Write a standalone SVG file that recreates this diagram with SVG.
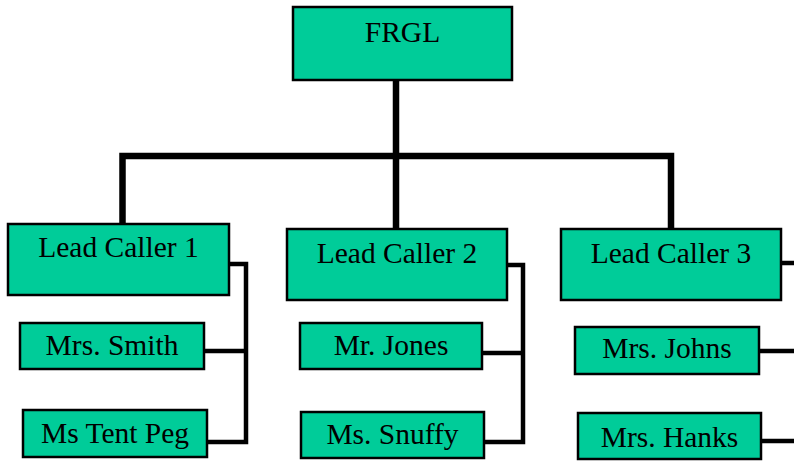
<svg xmlns="http://www.w3.org/2000/svg" width="794" height="467" viewBox="0 0 794 467">
<style>
.box{fill:#00CC99;stroke:#000;stroke-width:2.5}
.t{font-family:"Liberation Serif","Times New Roman",serif;font-size:29.5px;fill:#000;text-anchor:middle}
.main{fill:none;stroke:#000;stroke-width:6.5;stroke-linecap:square}
.sub{fill:none;stroke:#000;stroke-width:4.5;stroke-linecap:butt;stroke-linejoin:miter}
</style>
<rect width="794" height="467" fill="#fff"/>
<g id="connectors">
<path class="main" d="M396,80 V229"/>
<path class="main" d="M122.5,224 V156 H671 V229"/>
<path class="sub" d="M229,264 H246 V442 H207 M204,351 H246"/>
<path class="sub" d="M507,265 H523 V442 H484 M482,353 H523"/>
<path class="sub" d="M781,263 H794 M759,351 H794 M761,441 H794"/>
</g>
<g id="frgl"><rect class="box" x="293" y="7" width="219" height="73"/><text class="t" x="402.5" y="42">FRGL</text></g>
<g id="lead1"><rect class="box" x="8" y="224" width="221" height="71"/><text class="t" x="118.5" y="257">Lead Caller 1</text></g>
<g id="lead2"><rect class="box" x="287" y="229" width="220" height="71"/><text class="t" x="397" y="263">Lead Caller 2</text></g>
<g id="lead3"><rect class="box" x="561" y="229" width="220" height="71"/><text class="t" x="671" y="263">Lead Caller 3</text></g>
<g id="smith"><rect class="box" x="20" y="323" width="184" height="46"/><text class="t" x="112" y="355">Mrs. Smith</text></g>
<g id="tentpeg"><rect class="box" x="23" y="410" width="184" height="47"/><text class="t" x="115" y="443">Ms Tent Peg</text></g>
<g id="jones"><rect class="box" x="300" y="323" width="182" height="46"/><text class="t" x="391" y="355">Mr. Jones</text></g>
<g id="snuffy"><rect class="box" x="301" y="412" width="183" height="46"/><text class="t" x="392.5" y="444">Ms. Snuffy</text></g>
<g id="johns"><rect class="box" x="575" y="327" width="184" height="47"/><text class="t" x="667" y="358">Mrs. Johns</text></g>
<g id="hanks"><rect class="box" x="578" y="413" width="183" height="46"/><text class="t" x="669.5" y="447">Mrs. Hanks</text></g>
</svg>
